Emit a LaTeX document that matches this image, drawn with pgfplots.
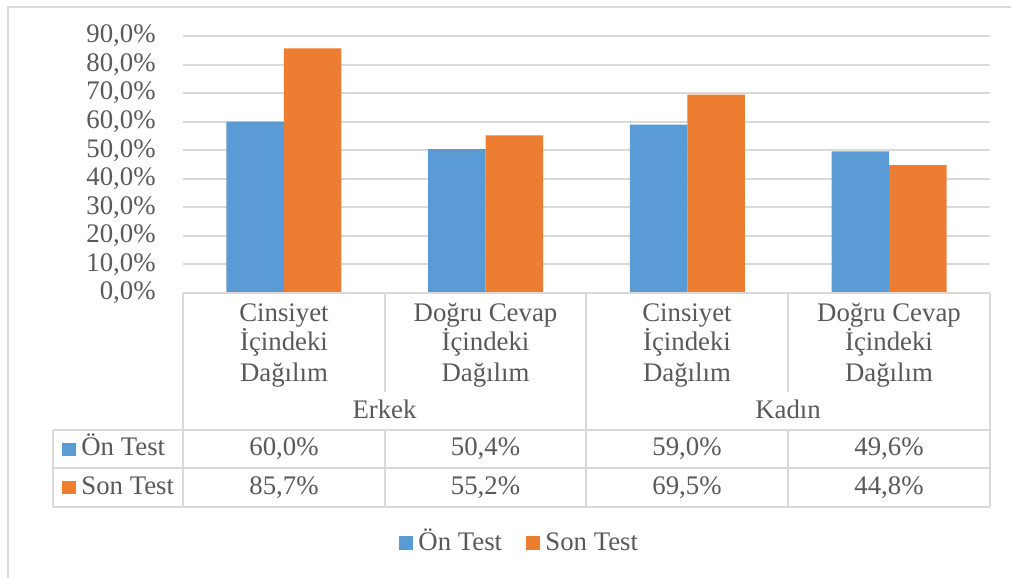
\documentclass[border=0pt]{standalone}
\usepackage{pgfplots}
\pgfplotsset{compat=1.18}
\usepackage{pgfplotstable}
\usepackage{fontspec}
\setmainfont{Liberation Serif}
\definecolor{txt}{HTML}{595959}
\definecolor{gridc}{HTML}{D9D9D9}
\definecolor{sblue}{HTML}{5B9BD5}
\definecolor{sorange}{HTML}{ED7D31}
\pgfplotstableread{
cat on son
0 60.0 85.7
1 50.4 55.2
2 59.0 69.5
3 49.6 44.8
}\data
\begin{document}
\begin{tikzpicture}
\begin{scope}[x=0.5bp,y=-0.5bp]
\useasboundingbox (0,0) rectangle (1011,578);
\fill[white] (0,0) rectangle (1011,578);
\draw[gridc, line width=1bp] (8,578) -- (8,6.7) -- (1011,6.7);
\end{scope}
\begin{axis}[
  at={(91.5bp,-146.5bp)}, anchor=south west,
  scale only axis, width=403.5bp, height=128.5bp,
  xmin=-0.5, xmax=3.5, ymin=0, ymax=90,
  axis line style={draw=none},
  xtick=\empty,
  ytick={0,10,...,90},
  yticklabels={{0,0\%},{10,0\%},{20,0\%},{30,0\%},{40,0\%},{50,0\%},{60,0\%},{70,0\%},{80,0\%},{90,0\%}},
  major tick length=0pt,
  ymajorgrids, grid style={gridc, line width=1bp},
  yticklabel style={font=\fontsize{13.4bp}{15bp}\selectfont, text=txt, anchor=east, inner sep=0pt, xshift=-13.5bp},
  ybar, bar width=0.285,
]
\addplot[fill=sblue, draw=none, bar shift=-0.1425] table[x=cat,y=on]{\data};
\addplot[fill=sorange, draw=none, bar shift=0.1425] table[x=cat,y=son]{\data};
\end{axis}
\begin{scope}[x=0.5bp,y=-0.5bp, font=\fontsize{13.4bp}{15bp}\selectfont, text=txt]
\draw[gridc, line width=1bp] (183,293) -- (990,293);
\draw[gridc, line width=1bp] (53,430) -- (990,430);
\draw[gridc, line width=1bp] (53,468) -- (990,468);
\draw[gridc, line width=1bp] (53,507) -- (990,507);
\draw[gridc, line width=1bp] (53,430) -- (53,507);
\draw[gridc, line width=1bp] (183,293) -- (183,507);
\draw[gridc, line width=1bp] (586,293) -- (586,507);
\draw[gridc, line width=1bp] (990,293) -- (990,507);
\draw[gridc, line width=1bp] (385,293) -- (385,392);
\draw[gridc, line width=1bp] (788,293) -- (788,392);
\draw[gridc, line width=1bp] (385,430) -- (385,507);
\draw[gridc, line width=1bp] (788,430) -- (788,507);
\foreach \cx/\a in {284/Cinsiyet, 485.5/Doğru Cevap, 687/Cinsiyet, 889/Doğru Cevap} {
  \node[anchor=base, inner sep=0pt] at (\cx,322) {\a};
  \node[anchor=base, inner sep=0pt] at (\cx,351) {İçindeki};
  \node[anchor=base, inner sep=0pt] at (\cx,382) {Dağılım};
}
\node[anchor=base, inner sep=0pt] at (384.5,419) {Erkek};
\node[anchor=base, inner sep=0pt] at (788,419) {Kadın};
\fill[sblue] (62,443) rectangle (76,456);
\node[anchor=base west, inner sep=0pt] at (81,456) {Ön Test};
\fill[sorange] (62,481) rectangle (76,494);
\node[anchor=base west, inner sep=0pt] at (81,495) {Son Test};
\foreach \cx/\a/\b in {284/{60,0\%}/{85,7\%}, 485.5/{50,4\%}/{55,2\%}, 687/{59,0\%}/{69,5\%}, 889/{49,6\%}/{44,8\%}} {
  \node[anchor=base, inner sep=0pt] at (\cx,456) {\a};
  \node[anchor=base, inner sep=0pt] at (\cx,495) {\b};
}
\fill[sblue] (399,536) rectangle (413,550);
\node[anchor=base west, inner sep=0pt] at (418,551) {Ön Test};
\fill[sorange] (526,536) rectangle (540,550);
\node[anchor=base west, inner sep=0pt] at (545,551) {Son Test};
\end{scope}
\end{tikzpicture}
\end{document}
